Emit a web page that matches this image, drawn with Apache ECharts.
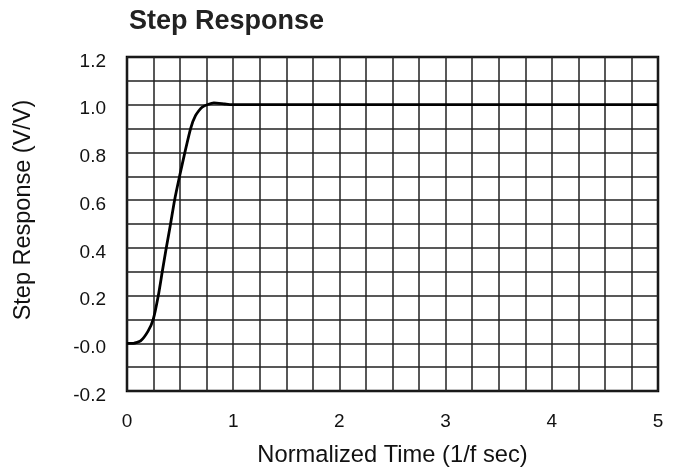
<!DOCTYPE html>
<html>
<head>
<meta charset="utf-8">
<script src="https://cdn.jsdelivr.net/npm/echarts@6/dist/echarts.min.js"></script>
<style>html,body{margin:0;padding:0;background:#fff}#c{width:675px;height:469px}</style>
</head>
<body>
<div id="c"></div>
<script>
const timeValues = [0, 0.06, 0.128, 0.197, 0.247, 0.295, 0.332, 0.37, 0.41, 0.448, 0.495, 0.545, 0.599, 0.646, 0.708, 0.818, 0.92, 0.987, 2, 3, 4, 5];
const responseValues = [0, 0, 0.01, 0.05, 0.1, 0.2, 0.3, 0.4, 0.5, 0.6, 0.7, 0.8, 0.9, 0.955, 0.99, 1.008, 1.003, 1.0, 1.0, 1.0, 1.0, 1.0];
const yTickLabels = {'-0.2':'-0.2','0':'-0.0','0.2':'0.2','0.4':'0.4','0.6':'0.6','0.8':'0.8','1':'1.0','1.2':'1.2'};
const xTickLabels = ['0','1','2','3','4','5'];

const font = 'Liberation Sans, Arial, sans-serif';
const gridLine = {show:true, lineStyle:{color:'#222', width:1.5}};
const chart = echarts.init(document.getElementById('c'));
chart.setOption({
  animation:false,
  title:{text:'Step Response', left:124, top:3, textStyle:{fontFamily:font, fontSize:27, fontWeight:'bold', color:'#222'}},
  grid:{left:127, right:17, top:57, bottom:78, containLabel:false, outerBoundsMode:'none', show:true, borderColor:'#000', borderWidth:2.5, backgroundColor:'transparent'},
  xAxis:{type:'value', min:0, max:5, interval:1,
    name:'Normalized Time (1/f sec)', nameLocation:'middle', nameGap:52,
    nameTextStyle:{fontFamily:font, fontSize:23.7, color:'#111'},
    axisLine:{show:false}, axisTick:{show:false},
    axisLabel:{fontFamily:font, fontSize:19, color:'#111', margin:21, formatter:(v)=>xTickLabels[Math.round(v)]},
    splitLine:gridLine,
    minorTick:{show:false, splitNumber:4},
    minorSplitLine:gridLine},
  yAxis:{type:'value', min:-0.2, max:1.2, interval:0.2,
    name:'Step Response (V/V)', nameLocation:'middle', nameGap:91,
    nameTextStyle:{fontFamily:font, fontSize:23.5, color:'#111', padding:[0,0,0,28]},
    axisLine:{show:false}, axisTick:{show:false},
    axisLabel:{fontFamily:font, fontSize:19, color:'#111', margin:21, verticalAlign:'top', lineHeight:9,
      formatter:(v)=>{const k=String(Math.round(v*10)/10); return yTickLabels[k]!==undefined?yTickLabels[k]:'';}},
    splitLine:gridLine,
    minorTick:{show:false, splitNumber:2},
    minorSplitLine:gridLine},
  series:[{type:'line', data:timeValues.map((t,i)=>[t,responseValues[i]]), smooth:0.2, showSymbol:false,
    lineStyle:{color:'#000', width:2.8}}]
});
</script>
</body>
</html>
